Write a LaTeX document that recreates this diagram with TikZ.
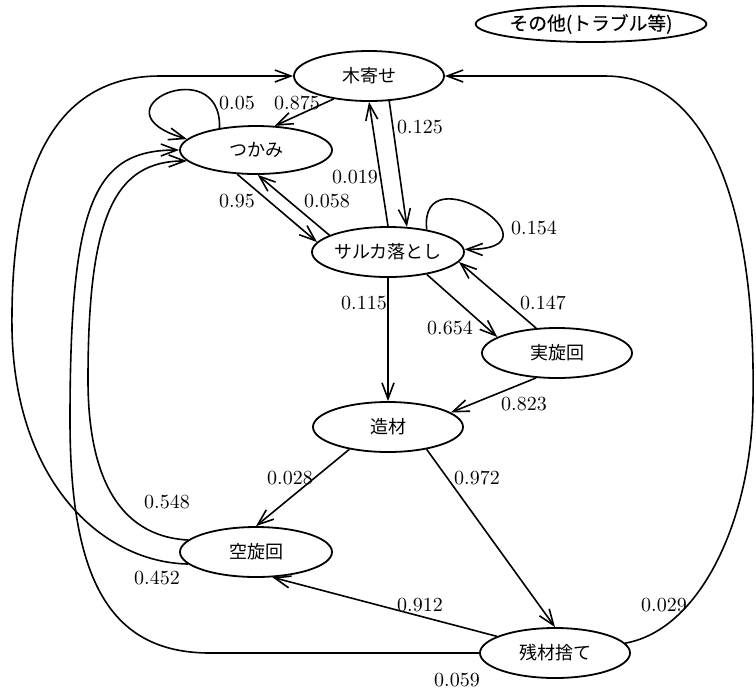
\documentclass[tikz,border=0pt]{standalone}
\usepackage{fontspec}
\newfontfamily\jpfont{Noto Sans CJK JP}
\newfontfamily\jpheavy[FakeBold=0.3]{Noto Sans CJK JP}
\usetikzlibrary{shapes.geometric,arrows.meta}
\tikzset{
  st/.style={draw, ellipse, line width=0.9pt, minimum width=75pt, minimum height=25pt, inner sep=0pt, font=\jpfont\fontsize{9}{9}\selectfont},
  arr/.style={line width=0.8pt, -{Straight Barb[length=8pt,width=6pt,line width=0.8pt]}},
  lbl/.style={font=\fontsize{10}{10}\selectfont, inner sep=0pt}
}
\begin{document}
\begin{tikzpicture}[x=0.5pt,y=-0.5pt]
\fill[white] (0,0) rectangle (756,693);
\useasboundingbox (0,0) rectangle (756,693);
% nodes
\node[st] (K) at (369,76) {木寄せ};
\node[st, minimum width=76pt, minimum height=24pt] (T) at (256,150) {つかみ};
\node[st, minimum width=76pt] (S) at (388,252) {サルカ落とし};
\node[st] (J) at (557,353) {実旋回};
\node[st] (Z) at (388,427) {造材};
\node[st, minimum width=76pt] (KU) at (256,552) {空旋回};
\node[st] (Z2) at (555,653) {残材捨て};
\node[st, minimum width=90pt, minimum height=18pt, font=\jpheavy\fontsize{9.4}{9.4}\selectfont] (O) at (591,24) {その他(トラブル等)};
% edges
\draw[arr] (K.213) -- (T.52);
\draw[arr] (T.149) .. controls (222,50) and (88,110) .. (T.171);
\draw[arr] (KU.170) .. controls (115,536) and (88,470) .. (88,380) .. controls (88,215) and (115,161) .. (T.189);
\draw[arr] (KU.190) .. controls (100,562) and (15,480) .. (12,330) .. controls (10,160) and (60,76) .. (160,76) -- (K.west);
\draw[arr] (Z2.west) -- (210,653) .. controls (110,653) and (70,580) .. (70,420) .. controls (70,200) and (95,150) .. (T.west);
\draw[arr] (Z2.8) .. controls (700,630) and (752,520) .. (753,400) .. controls (756,210) and (710,76) .. (605,76) -- (K.east);
\draw[arr] (S.north) -- (K.south);
\draw[arr] (K.309) -- (S.53);
\draw[arr] (T.232) -- (S.172);
\draw[arr] (S.164) -- (T.274);
\draw[arr] (S.30) .. controls (418,150) and (570,250) .. (S.2);
\draw[arr] (S.south) -- (Z.north);
\draw[arr] (S.-30) -- (J.165);
\draw[arr] (J.130) -- (S.-8);
\draw[arr] (J.230) -- (Z.13);
\draw[arr] (Z.210) -- (KU.north);
\draw[arr] (Z.-30) -- (Z2.north);
\draw[arr] (Z2.164) -- (KU.-57);
% labels
\node[lbl] (l005) at (237,103) {0.05};
\node[lbl] (l0875) at (297,103) {0.875};
\node[lbl] (l0125) at (420,127) {0.125};
\node[lbl] (l0019) at (355,177) {0.019};
\node[lbl] (l095) at (237,201) {0.95};
\node[lbl] (l0058) at (327,201) {0.058};
\node[lbl] (l0154) at (534,228) {0.154};
\node[lbl] (l0115) at (364,303) {0.115};
\node[lbl] (l0654) at (450,328) {0.654};
\node[lbl] (l0147) at (543,303) {0.147};
\node[lbl] (l0823) at (524,404) {0.823};
\node[lbl] (l0028) at (290,478) {0.028};
\node[lbl] (l0972) at (477,478) {0.972};
\node[lbl] (l0548) at (167,502) {0.548};
\node[lbl] (l0452) at (157,578) {0.452};
\node[lbl] (l0912) at (420,605) {0.912};
\node[lbl] (l0029) at (664,605) {0.029};
\node[lbl] (l0059) at (457,680) {0.059};
\end{tikzpicture}
\end{document}
